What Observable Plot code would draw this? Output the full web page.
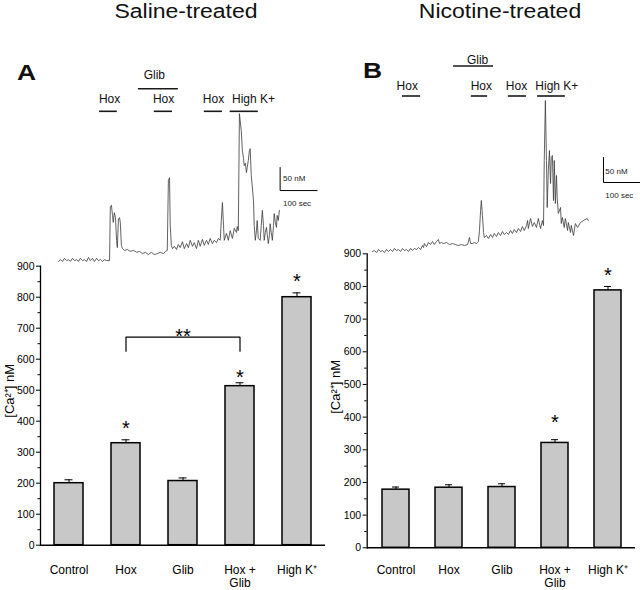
<!DOCTYPE html>
<html><head><meta charset="utf-8">
<script src="https://cdn.jsdelivr.net/npm/d3@7"></script>
<script src="https://cdn.jsdelivr.net/npm/@observablehq/plot@0.6"></script>
<style>
body{margin:0;background:#fff;}
#root{position:relative;width:640px;height:590px;overflow:hidden;background:#fff;font-family:"Liberation Sans",Arial,sans-serif;color:#111;}
#root svg{position:absolute;left:0;top:0;}
.title{position:absolute;font-size:20px;line-height:20px;white-space:nowrap;transform:translateX(-50%) scaleX(1.15);}
.panel{position:absolute;font-size:22px;font-weight:bold;line-height:22px;transform:scaleX(1.2);transform-origin:left center;}
</style></head>
<body><div id="root"></div>
<script>
// ---------- bar chart data ----------
const categories = ["Control", "Hox", "Glib", "Hox +\nGlib", "High K⁺"];
const salineMean = [200, 329, 207, 513, 800];
const salineSem  = [11, 11, 10, 11, 14];
const nicotineMean = [178, 184, 186, 321, 788];
const nicotineSem  = [8, 9, 10, 10, 12];
const yTicks = [0, 100, 200, 300, 400, 500, 600, 700, 800, 900];
const yMinorTicks = [50, 150, 250, 350, 450, 550, 650, 750, 850];
const salineStarCats = ["Hox", "Hox +\nGlib", "High K⁺"];
const salineStarY = [392, 558, 867];
const nicotineStarCats = ["Hox +\nGlib", "High K⁺"];
const nicotineStarY = [400, 849];
const bracketCats = ["Hox", "Hox", "Hox +\nGlib", "Hox +\nGlib"];
const bracketY = [626, 671, 671, 626];
const bracketLabel = "**";
const bracketLabelCat = "Glib";
const bracketLabelY = 690;

// ---------- calcium traces (time in s, Δ[Ca2+] in nM) ----------
const traceA_t = [0,5,11,16,22,27,32,38,43,49,54,59,65,70,76,81,86,92,97,103,108,113,119,124,130,138,
 140,143,146,148,151,154,157,159,162,165,167,170,173,178,186,194,203,211,219,227,
 235,243,251,259,267,275,284,289,294,297,300,302,305,308,313,319,324,329,335,340,
 346,351,356,362,367,373,378,383,389,394,400,405,410,416,421,427,432,437,440,443,
 446,448,454,459,464,470,475,481,483,486,489,494,497,500,502,505,508,510,513,516,
 518,521,527,529,532,535,537,540,545,548,551,554,556,559,562,567,570,572,575,578,
 581,583,586,589,591,594,597];
const traceA_v = [0,4,0,7,2,4,0,7,2,4,0,7,2,4,0,9,2,7,0,7,2,4,0,4,2,2,
 119,122,100,85,106,95,46,30,93,95,85,35,28,24,26,22,24,20,22,17,
 20,15,20,15,17,20,17,22,24,176,182,78,35,28,33,26,37,30,43,28,
 39,30,46,33,41,28,46,33,48,35,46,37,50,39,46,41,50,46,89,128,
 78,46,61,46,67,50,72,63,76,67,321,284,241,224,208,213,193,204,219,241,
 245,187,132,78,46,67,89,50,46,78,111,78,46,63,74,39,56,82,63,46,
 78,104,85,74,100,89,111];
const traceB_t = [0,5,11,16,22,27,32,38,43,49,54,59,65,70,76,81,86,92,97,103,
 108,113,119,124,130,135,138,140,146,151,157,162,167,173,178,181,186,192,200,208,
 216,224,232,240,248,257,262,265,270,275,281,286,289,292,294,297,300,302,308,313,
 319,324,329,335,340,346,351,356,362,367,373,378,383,389,394,400,405,410,416,419,
 421,427,432,437,443,448,454,459,462,464,467,470,472,475,478,481,483,486,489,491,
 494,497,499,502,508,510,513,518,521,527,529,535,537,543,548,554,562,570,580,583];
const traceB_v = [2,4,0,6,2,4,0,6,2,6,2,8,4,6,2,8,4,6,2,8,
 4,8,6,10,6,14,10,18,12,20,16,22,16,22,26,18,20,18,20,16,
 18,16,14,16,14,16,30,18,18,20,18,22,44,84,104,74,40,30,34,28,
 36,30,38,32,40,34,42,36,40,36,44,38,46,40,48,42,52,44,54,64,
 48,68,52,60,50,68,48,64,54,184,304,184,90,164,204,138,190,194,104,184,
 98,154,110,78,90,58,70,50,68,44,60,40,54,34,58,50,60,64,68,64];

// treatment periods (s) and annotation lanes
const treatA_label = ["Hox", "Hox", "Hox", "High K+", "Glib"];
const treatA_start = [111, 259, 394, 464, 216];
const treatA_end   = [159, 308, 443, 540, 324];
const treatA_textX = [138, 284, 419, 527, 259];
const treatA_barLane  = [326, 326, 326, 326, 375];
const treatA_textLane = [352, 352, 352, 352, 405];
const treatB_label = ["Hox", "Hox", "Hox", "High K+", "Glib"];
const treatB_start = [81, 267, 367, 446, 219];
const treatB_end   = [130, 311, 416, 521, 327];
const treatB_textX = [94, 294, 389, 498, 284];
const treatB_barLane  = [313, 313, 313, 313, 373];
const treatB_textLane = [332, 332, 332, 332, 385];
// calibration bars: 50 nM, 100 sec
const scaleA = {t: 599, v: 154, dt: 100, dv: 50};
const scaleB = {t: 624, v: 140, dt: 100, dv: 50};

const FONT = "Liberation Sans, Arial, sans-serif";
const root = document.getElementById("root");

function addDiv(cls, text, left, top) {
  const d = document.createElement("div");
  d.className = cls; d.textContent = text;
  d.style.left = left + "px"; d.style.top = top + "px";
  root.appendChild(d);
}
addDiv("title", "Saline-treated", 185.5, 1);
addDiv("title", "Nicotine-treated", 499.5, 1);
addDiv("panel", "A", 17, 62);
addDiv("panel", "B", 363, 60);

function traceChart(T, V, lab, st, en, tx, bl, tl, sc, o) {
  const pts = T.map((t, i) => ({t, v: V[i]}));
  const tr = lab.map((l, i) => ({l, s: st[i], e: en[i], x: tx[i], b: bl[i], y: tl[i]}));
  const bar = [{t: sc.t, v: sc.v + sc.dv}, {t: sc.t, v: sc.v}, {t: sc.t + sc.dt, v: sc.v}];
  return Plot.plot({
    width: 640, height: 590,
    marginLeft: o.left, marginRight: o.right, marginTop: o.top, marginBottom: o.bottom,
    style: {background: "transparent", fontFamily: FONT, overflow: "visible"},
    x: {domain: o.xd, axis: null},
    y: {domain: [0, 420], axis: null},
    marks: [
      Plot.line(pts, {x: "t", y: "v", stroke: "#3a3a3a", strokeWidth: 0.8}),
      Plot.ruleY(tr, {x1: "s", x2: "e", y: "b", stroke: "#1a1a1a", strokeWidth: 1.6}),
      Plot.text(tr, {x: "x", y: "y", text: "l", fontSize: 12, fill: "#111"}),
      Plot.line(bar, {x: "t", y: "v", stroke: "#000", strokeWidth: 1}),
      Plot.text([sc.dv + " nM"], {x: sc.t + o.lx1, y: sc.v + o.ly1, text: d => d, textAnchor: "start", fontSize: 8, fill: "#222"}),
      Plot.text([sc.dt + " sec"], {x: sc.t + o.lx2, y: sc.v + o.ly2, text: d => d, textAnchor: "start", fontSize: 8, fill: "#222"})
    ]
  });
}

function barChart(mean, sem, starCats, starY, o, bracket) {
  const data = categories.map((c, i) => ({c, v: mean[i], top: mean[i] + sem[i]}));
  const stars = starCats.map((c, i) => ({c, y: starY[i]}));
  const marks = [
    Plot.barY(data, {x: "c", y: "v", fill: "#c8c8c8", stroke: "#000", strokeWidth: 1.5}),
    Plot.ruleX(data, {x: "c", y1: "v", y2: "top", stroke: "#000", strokeWidth: 1}),
    Plot.tickY(data, {x: "c", y: "top", stroke: "#000", strokeWidth: 1, insetLeft: o.cap, insetRight: o.cap}),
    Plot.text(stars, {x: "c", y: "y", text: () => "*", fontSize: 20, dy: 5, fill: "#000"}),
    Plot.axisY(yTicks, {tickSize: 4, tickPadding: 2, fontSize: 10.5, label: null, stroke: "#000"}),
    Plot.axisY(yMinorTicks, {tickSize: 2.5, tickFormat: () => "", label: null, stroke: "#000"}),
    Plot.axisX({tickSize: 0, tickPadding: o.xpad, fontSize: 12, lineHeight: 1.15, label: null}),
    Plot.ruleY([0], {stroke: "#000", strokeWidth: 1.5}),
    Plot.frame({anchor: "left", stroke: "#000", strokeWidth: 1.3}),
    Plot.text(["[Ca²⁺] nM"], {frameAnchor: "left", text: d => d, rotate: -90, dx: -31, dy: o.labdy, fontSize: 13, fill: "#000"})
  ];
  if (bracket) {
    const bp = bracketCats.map((c, i) => ({c, y: bracketY[i]}));
    marks.push(Plot.line(bp, {x: "c", y: "y", stroke: "#000", strokeWidth: 1.2}));
    marks.push(Plot.text([bracketLabel], {x: () => bracketLabelCat, y: () => bracketLabelY, text: d => d, fontSize: 20, dy: 5, fill: "#000"}));
  }
  return Plot.plot({
    width: 640, height: 590,
    marginLeft: o.left, marginRight: o.right, marginTop: o.top, marginBottom: o.bottom,
    style: {background: "transparent", fontFamily: FONT, overflow: "visible", color: "#000"},
    x: {domain: categories, paddingInner: o.pad, paddingOuter: o.pad / 2},
    y: {domain: [0, 900]},
    marks
  });
}

root.appendChild(traceChart(traceA_t, traceA_v, treatA_label, treatA_start, treatA_end, treatA_textX, treatA_barLane, treatA_textLane, scaleA,
  {left: 58, right: 323, top: 67.5, bottom: 329, xd: [0, 700], lx1: 8, ly1: 26, lx2: 8, ly2: -28}));
root.appendChild(traceChart(traceB_t, traceB_v, treatB_label, treatB_start, treatB_end, treatB_textX, treatB_barLane, treatB_textLane, scaleB,
  {left: 372, right: 0, top: 42, bottom: 338, xd: [0, 724], lx1: 5, ly1: 22, lx2: 5, ly2: -26}));
root.appendChild(barChart(salineMean, salineSem, salineStarCats, salineStarY,
  {left: 40, right: 315, top: 265.7, bottom: 45.3, pad: 0.49, cap: 10.5, xpad: 18.5, labdy: 12}, true));
root.appendChild(barChart(nicotineMean, nicotineSem, nicotineStarCats, nicotineStarY,
  {left: 366.7, right: 5, top: 253.3, bottom: 42.7, pad: 0.5, cap: 10, xpad: 16, labdy: 13}, false));
</script></body></html>
